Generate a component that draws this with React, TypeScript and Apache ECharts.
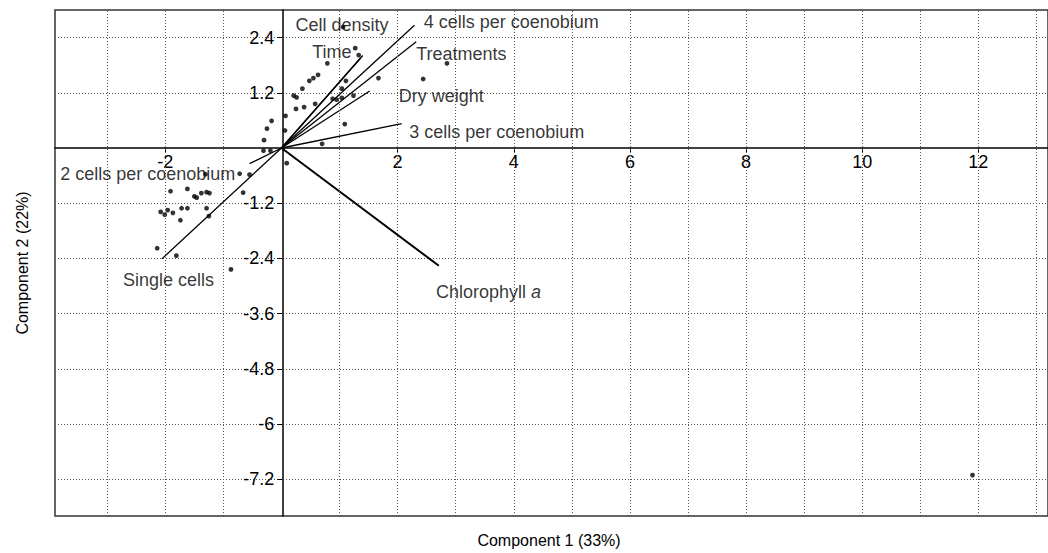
import React, { useEffect, useRef } from "react";
import * as echarts from "echarts";

// Sample scores (Component 1, Component 2)
const scorePoints: number[][] = [
  [1.06, 2.63], [1.27, 2.17], [1.33, 2.02], [0.79, 1.84], [0.63, 1.59], [0.55, 1.52],
  [0.48, 1.46], [0.36, 1.29], [0.21, 1.14], [0.26, 1.10], [0.58, 0.96], [0.39, 0.89],
  [0.25, 0.85], [0.07, 0.70], [-0.17, 0.59], [-0.25, 0.42], [0.06, 0.38], [-0.30, 0.17],
  [-0.31, -0.06], [-0.19, -0.06], [0.70, 0.09], [1.09, 0.52], [1.11, 1.46], [1.04, 1.29],
  [1.04, 1.09], [0.88, 1.07], [0.95, 1.05], [1.24, 1.14], [1.67, 1.52], [2.44, 1.50],
  [2.85, 1.84], [0.09, -0.33], [11.90, -7.11],
  [-1.31, -0.57], [-0.72, -0.56], [-0.55, -0.58], [-1.91, -0.94], [-1.62, -0.89],
  [-1.50, -1.05], [-1.46, -1.08], [-1.38, -0.98], [-1.29, -0.96], [-1.24, -0.98],
  [-0.66, -0.97], [-2.08, -1.39], [-2.01, -1.45], [-1.96, -1.35], [-1.87, -1.41],
  [-1.72, -1.31], [-1.62, -1.31], [-1.29, -1.31], [-1.74, -1.57], [-1.25, -1.48],
  [-2.14, -2.18], [-1.81, -2.34], [-0.87, -2.64],
];

// Variable loadings (vector end points)
const vectorNames = [
  "Cell density", "Time", "4 cells per coenobium", "Treatments", "Dry weight",
  "3 cells per coenobium", "2 cells per coenobium", "Single cells", "Chlorophyll a",
];
const vectorEnds: number[][] = [
  [1.40, 2.01], [1.36, 1.95], [2.29, 2.67], [2.32, 2.31], [1.52, 1.24],
  [2.07, 0.53], [-0.55, -0.34], [-2.06, -2.41], [2.71, -2.56],
];
// Label anchor (left edge, vertical middle) for each vector name
const labelAnchors: number[][] = [
  [0.24, 2.67], [0.53, 2.09], [2.45, 2.74], [2.32, 2.05], [2.02, 1.13],
  [2.20, 0.35], [-3.81, -0.56], [-2.73, -2.86], [2.66, -3.14],
];

const xTickLabels = [-2, 2, 4, 6, 8, 10, 12];
const yTickLabels = [-7.2, -6, -4.8, -3.6, -2.4, -1.2, 1.2, 2.4];
const xGridValues = [-3, -2, -1, 1, 2, 3, 4, 5, 6, 7, 8, 9, 10, 11, 12, 13];

const X_MIN = -3.9, X_MAX = 13.2, Y_MIN = -8, Y_MAX = 3;
const W = 1048, H = 553;
const GRID = { left: 55, top: 10, right: -4, bottom: 37 };

const FONT = "'Liberation Sans', Arial, Helvetica, sans-serif";

export default function App() {
  const ref = useRef<HTMLDivElement>(null);
  useEffect(() => {
    if (!ref.current) return;
    const chart = echarts.init(ref.current, undefined, { renderer: "svg" });
    const gridLine = { type: [1, 2] as any, color: "#555", width: 1 };

    // place axes (line, ticks, labels) through the origin
    const plotW = W - GRID.left - GRID.right;
    const plotH = H - GRID.top - GRID.bottom;
    const yAxisOffset = -((0 - X_MIN) / (X_MAX - X_MIN)) * plotW;
    const xAxisOffset = -((0 - Y_MIN) / (Y_MAX - Y_MIN)) * plotH;

    const vectorSeries = vectorEnds.map((end, i) => ({
      type: "line",
      name: vectorNames[i],
      data: [[0, 0], end],
      showSymbol: false,
      symbol: "none",
      silent: true,
      z: 3,
      lineStyle: { color: "#000", width: vectorNames[i] === "Chlorophyll a" ? 2 : 1.3 },
    }));

    chart.setOption({
      animation: false,
      backgroundColor: "#fff",
      textStyle: { fontFamily: FONT },
      grid: {
        ...GRID, show: true,
        borderColor: "#333", borderWidth: 1.5, backgroundColor: "transparent",
      },
      xAxis: {
        type: "value", min: X_MIN, max: X_MAX, offset: xAxisOffset,
        axisLine: { onZero: false, lineStyle: { color: "#000", width: 1.5 } },
        axisTick: { show: true, customValues: xTickLabels, length: 5, lineStyle: { color: "#000" } },
        axisLabel: { customValues: xTickLabels, color: "#000", fontSize: 18, fontFamily: FONT, margin: 5 },
        splitLine: { show: false },
      },
      yAxis: {
        type: "value", min: Y_MIN, max: Y_MAX, interval: 1, offset: yAxisOffset,
        axisLine: { onZero: false, lineStyle: { color: "#000", width: 1.5 } },
        axisTick: { show: true, customValues: yTickLabels, length: 5, lineStyle: { color: "#000" } },
        axisLabel: { customValues: yTickLabels, color: "#000", fontSize: 18, fontFamily: FONT, margin: 8 },
        splitLine: { show: true, lineStyle: gridLine },
      },
      graphic: [
        {
          type: "text", x: 549, y: 540,
          style: { text: "Component 1 (33%)", align: "center", verticalAlign: "middle", font: `16px ${FONT}`, fill: "#000" },
        },
        {
          type: "text", x: 22, y: 263, rotation: Math.PI / 2,
          style: { text: "Component 2 (22%)", align: "center", verticalAlign: "middle", font: `16px ${FONT}`, fill: "#000" },
        },
      ],
      series: [
        {
          type: "scatter", data: [], silent: true, z: 1,
          markLine: {
            silent: true, symbol: ["none", "none"], label: { show: false },
            lineStyle: gridLine, animation: false,
            data: xGridValues.map((v) => ({ xAxis: v })),
          },
        },
        ...vectorSeries,
        {
          type: "scatter", data: scorePoints, symbolSize: 4.8, z: 4,
          itemStyle: { color: "#000" }, silent: true,
        },
        {
          type: "scatter", symbolSize: 0, z: 5, silent: true,
          data: labelAnchors.map((p, i) => ({
            value: p, name: vectorNames[i],
            label: vectorNames[i] === "Chlorophyll a"
              ? { formatter: "{n|Chlorophyll }{i|a}" }
              : { formatter: "{b}" },
          })),
          label: {
            show: true, position: "right", distance: 0, color: "#000",
            fontSize: 18, fontFamily: FONT, align: "left", verticalAlign: "middle",
            rich: {
              n: { fontSize: 18, fontFamily: FONT, color: "#000" },
              i: { fontSize: 18, fontFamily: FONT, color: "#000", fontStyle: "italic" },
            },
          },
        },
      ],
    });
    return () => chart.dispose();
  }, []);
  return (
    <div
      ref={ref}
      style={{ position: "absolute", left: 0, top: 0, width: W, height: H }}
    />
  );
}
